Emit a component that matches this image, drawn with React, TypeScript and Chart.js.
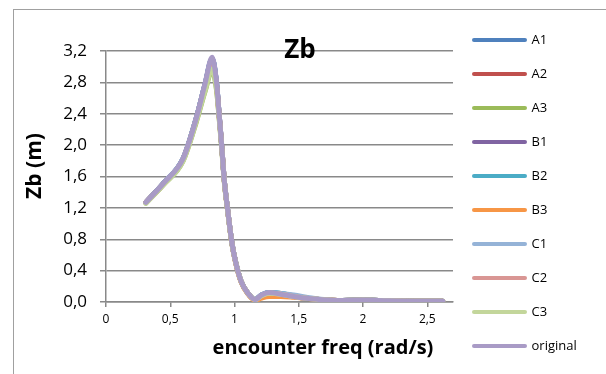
import React, { useEffect, useRef } from 'react';
import { Chart, registerables } from 'chart.js';

Chart.register(...registerables);

// ---- data ----
const freq = [0.31, 0.45, 0.6, 0.7, 0.77, 0.826, 0.86, 0.88, 0.9, 0.92, 0.95, 0.98, 1.01, 1.05, 1.1, 1.16, 1.21, 1.27, 1.36, 1.46, 1.6, 1.8, 2.0, 2.2, 2.4, 2.62];

const A1 = [1.27, 1.52, 1.83, 2.33, 2.77, 3.1, 2.79, 2.4, 2.0, 1.56, 1.13, 0.75, 0.5, 0.27, 0.12, 0.03, 0.09, 0.12, 0.11, 0.08, 0.04, 0.02, 0.025, 0.015, 0.01, 0.01];
const A2 = [1.27, 1.52, 1.82, 2.32, 2.76, 3.08, 2.78, 2.39, 2.0, 1.56, 1.13, 0.75, 0.5, 0.27, 0.12, 0.03, 0.08, 0.11, 0.1, 0.07, 0.04, 0.02, 0.025, 0.015, 0.01, 0.01];
const A3 = [1.26, 1.5, 1.8, 2.28, 2.68, 2.95, 2.7, 2.35, 1.97, 1.54, 1.12, 0.74, 0.5, 0.27, 0.12, 0.03, 0.08, 0.11, 0.1, 0.07, 0.04, 0.02, 0.025, 0.015, 0.01, 0.01];
const B1 = [1.27, 1.52, 1.83, 2.33, 2.77, 3.1, 2.79, 2.4, 2.0, 1.56, 1.13, 0.75, 0.5, 0.27, 0.12, 0.03, 0.09, 0.12, 0.1, 0.07, 0.04, 0.02, 0.025, 0.015, 0.01, 0.01];
const B2 = [1.27, 1.52, 1.83, 2.33, 2.77, 3.1, 2.79, 2.4, 2.0, 1.56, 1.13, 0.75, 0.5, 0.27, 0.12, 0.03, 0.09, 0.12, 0.11, 0.08, 0.04, 0.02, 0.025, 0.015, 0.01, 0.01];
const B3 = [1.27, 1.51, 1.82, 2.31, 2.74, 3.05, 2.76, 2.38, 1.99, 1.55, 1.12, 0.74, 0.49, 0.26, 0.11, 0.02, 0.05, 0.07, 0.07, 0.06, 0.04, 0.02, 0.02, 0.015, 0.01, 0.01];
const C1 = [1.27, 1.52, 1.83, 2.33, 2.77, 3.1, 2.79, 2.4, 2.0, 1.56, 1.13, 0.75, 0.5, 0.27, 0.12, 0.03, 0.09, 0.12, 0.11, 0.09, 0.05, 0.02, 0.025, 0.015, 0.01, 0.01];
const C2 = [1.27, 1.51, 1.82, 2.32, 2.75, 3.05, 2.77, 2.39, 2.0, 1.56, 1.13, 0.75, 0.5, 0.27, 0.12, 0.03, 0.08, 0.11, 0.1, 0.07, 0.04, 0.02, 0.025, 0.015, 0.01, 0.01];
const C3 = [1.26, 1.5, 1.8, 2.29, 2.69, 2.97, 2.72, 2.36, 1.98, 1.55, 1.12, 0.74, 0.5, 0.27, 0.12, 0.03, 0.08, 0.11, 0.1, 0.07, 0.04, 0.02, 0.025, 0.015, 0.01, 0.01];
const original = [1.27, 1.52, 1.83, 2.33, 2.78, 3.12, 2.8, 2.4, 2.0, 1.56, 1.13, 0.75, 0.5, 0.27, 0.12, 0.03, 0.09, 0.12, 0.1, 0.07, 0.04, 0.02, 0.025, 0.015, 0.01, 0.01];

const seriesNames = ['A1', 'A2', 'A3', 'B1', 'B2', 'B3', 'C1', 'C2', 'C3', 'original'];
const seriesValues = [A1, A2, A3, B1, B2, B3, C1, C2, C3, original];
const seriesColors = ['#4F81BD', '#C0504D', '#9BBB59', '#8064A2', '#4BACC6', '#F79646', '#95B3D7', '#D99694', '#C3D69B', '#A99BC6'];

const xTickValues = [0, 0.5, 1, 1.5, 2, 2.5];
const X_MIN = 0;
const X_MAX = 2.7;
const Y_MIN = 0;
const Y_MAX = 3.2;
const Y_STEP = 0.4;

const CHART_TITLE = 'Zb';
const X_TITLE = 'encounter freq (rad/s)';
const Y_TITLE = 'Zb (m)';

const FONT = '"Open Sans"';
const GRID = '#898989';

const axisTitles = {
  id: 'axisTitles',
  afterDraw(chart: any) {
    const { ctx, chartArea } = chart;
    ctx.save();
    ctx.fillStyle = '#000';
    ctx.textAlign = 'center';
    ctx.textBaseline = 'middle';
    ctx.font = `bold 20px ${FONT}`;
    ctx.fillText(X_TITLE, chartArea.left + 217, chartArea.bottom + 46);
    ctx.font = `bold 21px ${FONT}`;
    ctx.translate(chartArea.left - 71, chartArea.top + 115);
    ctx.rotate(-Math.PI / 2);
    ctx.fillText(Y_TITLE, 0, 0);
    ctx.restore();
  },
};

export default function App() {
  const ref = useRef<HTMLCanvasElement | null>(null);

  useEffect(() => {
    let chart: any = null;
    let cancelled = false;
    const make = () => {
      if (cancelled || !ref.current) return;
      const n = seriesNames.length;
      chart = new Chart(ref.current, {
        type: 'line',
        data: {
          datasets: seriesNames.map((name, i) => ({
            label: name,
            data: freq.map((x, j) => ({ x, y: seriesValues[i][j] })),
            borderColor: seriesColors[i],
            backgroundColor: seriesColors[i],
            borderWidth: 5,
            pointRadius: 0,
            pointHoverRadius: 0,
            fill: false,
            cubicInterpolationMode: 'monotone',
            borderCapStyle: 'round',
            borderJoinStyle: 'round',
            order: n - 1 - i,
          })),
        },
        plugins: [axisTitles],
        options: {
          animation: false,
          responsive: false,
          devicePixelRatio: 1,
          layout: { padding: { top: 0, left: 17, right: 23, bottom: 34 } },
          plugins: {
            tooltip: { enabled: false },
            title: {
              display: true,
              text: CHART_TITLE,
              color: '#000',
              font: { family: FONT, size: 26, weight: 'bold' },
              padding: { top: 35.4, bottom: -15.6 },
            },
            legend: {
              display: true,
              position: 'right',
              maxWidth: 130,
              labels: {
                usePointStyle: true,
                pointStyle: 'line',
                pointStyleWidth: 51,
                padding: 21,
                color: '#000',
                font: { family: FONT, size: 13 },
                generateLabels: (c: any) => {
                  const items = (Chart as any).defaults.plugins.legend.labels.generateLabels(c);
                  items.forEach((it: any) => {
                    it.lineWidth = 4;
                    it.lineCap = 'round';
                  });
                  return items.sort((a: any, b: any) => a.datasetIndex - b.datasetIndex);
                },
              },
            },
          },
          scales: {
            x: {
              type: 'linear',
              min: X_MIN,
              max: X_MAX,
              afterBuildTicks: (s: any) => {
                s.ticks = xTickValues.map((v) => ({ value: v }));
              },
              afterFit: (s: any) => {
                s.height = 84;
              },
              grid: {
                drawOnChartArea: false,
                drawTicks: true,
                tickLength: 5,
                color: GRID,
                lineWidth: 1.5,
              },
              border: { display: true, color: GRID, width: 1.5 },
              ticks: {
                color: '#000',
                padding: 5,
                maxRotation: 0,
                font: { family: FONT, size: 12 },
                callback: (v: any) => String(v).replace('.', ','),
              },
            },
            y: {
              type: 'linear',
              min: Y_MIN,
              max: Y_MAX,
              afterFit: (s: any) => {
                s.width = 89;
              },
              grid: {
                drawTicks: true,
                tickLength: 6,
                color: GRID,
                lineWidth: 1.5,
              },
              border: { display: true, color: GRID, width: 1.5 },
              ticks: {
                stepSize: Y_STEP,
                color: '#000',
                padding: 13,
                font: { family: FONT, size: 17 },
                callback: (v: any) => Number(v).toFixed(1).replace('.', ','),
              },
            },
          },
        },
      } as any);
    };
    const fonts: any = (document as any).fonts;
    if (fonts && fonts.load) {
      Promise.all([
        fonts.load(`16px ${FONT}`),
        fonts.load(`bold 18px ${FONT}`),
      ]).then(make, make);
    } else {
      make();
    }
    return () => {
      cancelled = true;
      if (chart) chart.destroy();
    };
  }, []);

  return (
    <div style={{ position: 'fixed', left: 0, top: 0, width: 606, height: 374, overflow: 'hidden', background: '#fff' }}>
      <div style={{ position: 'absolute', left: 13, top: 9, width: 620, height: 420, border: '1px solid #a0a0a0' }} />
      <canvas ref={ref} width={606} height={420} style={{ position: 'absolute', left: 0, top: 0, width: 606, height: 420, display: 'block' }} />
    </div>
  );
}
